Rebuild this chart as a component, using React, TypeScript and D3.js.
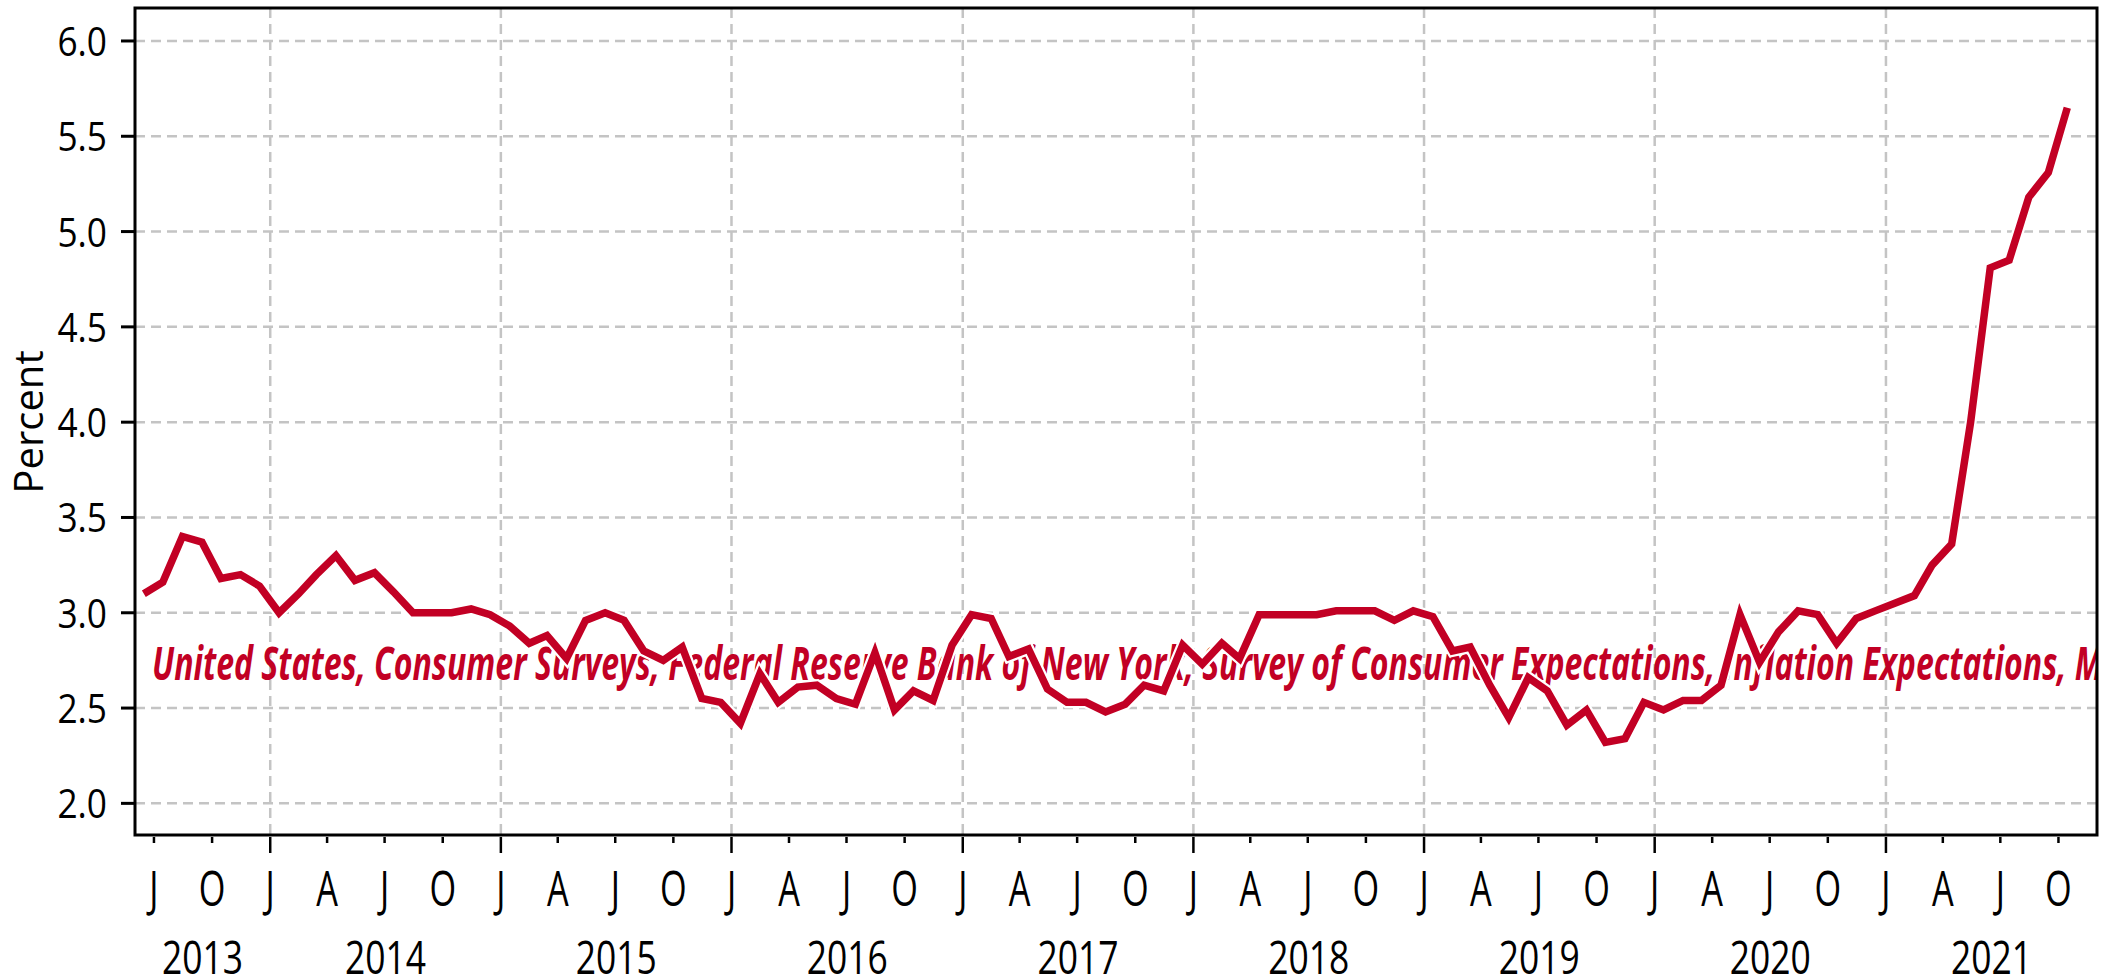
import React from "react";
import * as d3 from "d3";

// Median one-year-ahead expected inflation, monthly, Jun 2013 .. Oct 2021
const firstYear = 2013;
const firstMonth = 5; // June (0-based)
const inflationValues: number[] = [
  3.10, 3.16, 3.40, 3.37, 3.18, 3.20, 3.14, // 2013 Jun-Dec
  3.00, 3.10, 3.20, 3.30, 3.17, 3.21, 3.11, 3.00, 3.00, 3.00, 3.02, 2.99, // 2014
  2.93, 2.84, 2.88, 2.76, 2.96, 3.00, 2.96, 2.80, 2.75, 2.82, 2.55, 2.53, // 2015
  2.42, 2.68, 2.53, 2.61, 2.62, 2.55, 2.52, 2.79, 2.49, 2.59, 2.54, 2.83, // 2016
  2.99, 2.97, 2.77, 2.81, 2.60, 2.53, 2.53, 2.48, 2.52, 2.62, 2.59, 2.83, // 2017
  2.73, 2.84, 2.76, 2.99, 2.99, 2.99, 2.99, 3.01, 3.01, 3.01, 2.96, 3.01, // 2018
  2.98, 2.80, 2.82, 2.62, 2.45, 2.66, 2.59, 2.41, 2.49, 2.32, 2.34, 2.53, // 2019
  2.49, 2.54, 2.54, 2.62, 2.99, 2.74, 2.90, 3.01, 2.99, 2.84, 2.97, 3.01, // 2020
  3.05, 3.09, 3.25, 3.36, 4.00, 4.81, 4.85, 5.18, 5.31, 5.65, // 2021 Jan-Oct
];
const yTickValues = [2.0, 2.5, 3.0, 3.5, 4.0, 4.5, 5.0, 5.5, 6.0];
const quarterLetters: Record<number, string> = { 0: "J", 3: "A", 6: "J", 9: "O" };
const yearLabels = [2013, 2014, 2015, 2016, 2017, 2018, 2019, 2020, 2021];
const seriesLabel =
  "United States, Consumer Surveys, Federal Reserve Bank of New York, Survey of Consumer Expectations, Inflation Expectations, M";
const yAxisTitle = "Percent";

const W = 2123;
const H = 979;
const L = 135;
const R = 2097;
const T = 8;
const B = 835;
const RED = "#C20024";
const GRID = "#C4C4C4";
const FONT = "'Open Sans', 'Noto Sans', sans-serif";

export default function App() {
  const domainStart = new Date(firstYear, firstMonth, 1);
  const domainEnd = new Date(2021, 11, 1);
  const x = d3.scaleTime().domain([domainStart, domainEnd]).range([L, R]);
  const y = d3.scaleLinear().domain([1.834, 6.173]).range([B, T]);

  const points = inflationValues.map((v, i) => ({
    date: new Date(firstYear, firstMonth + i, 15),
    value: v,
  }));
  const line = d3
    .line<{ date: Date; value: number }>()
    .x((d) => x(d.date))
    .y((d) => y(d.value));
  const path = line(points) || "";

  const quarters = d3
    .timeMonths(new Date(firstYear, 6, 1), domainEnd)
    .filter((d) => d.getMonth() % 3 === 0);
  const years = quarters.filter((d) => d.getMonth() === 0);

  return (
    <svg
      width={W}
      height={H}
      style={{ position: "absolute", left: 0, top: 0, background: "#fff" }}
    >
      <defs>
        <clipPath id="plotClip">
          <rect x={L} y={T} width={R - L} height={B - T} />
        </clipPath>
      </defs>
      <rect x={0} y={0} width={W} height={H} fill="#fff" />

      {/* horizontal grid */}
      {yTickValues.map((t) => (
        <line
          key={"hg" + t}
          x1={L}
          x2={R}
          y1={y(t)}
          y2={y(t)}
          stroke={GRID}
          strokeWidth={2.5}
          strokeDasharray="10,6"
        />
      ))}
      {/* vertical grid at year starts */}
      {years.map((d) => (
        <line
          key={"vg" + d.getFullYear()}
          x1={x(d)}
          x2={x(d)}
          y1={T}
          y2={B}
          stroke={GRID}
          strokeWidth={2.5}
          strokeDasharray="10,6"
        />
      ))}

      <g clipPath="url(#plotClip)">
        <text
          x={152}
          y={680}
          fill={RED}
          fontFamily={FONT}
          fontStyle="italic"
          fontWeight={700}
          fontSize={46}
          textLength={1951}
          lengthAdjust="spacingAndGlyphs"
        >
          {seriesLabel}
        </text>
        <path
          d={path}
          fill="none"
          stroke="#fff"
          strokeWidth={12}
          strokeLinejoin="miter"
        />
        <path
          d={path}
          fill="none"
          stroke={RED}
          strokeWidth={7.5}
          strokeLinejoin="miter"
        />
      </g>

      {/* frame */}
      <rect
        x={L}
        y={T}
        width={R - L}
        height={B - T}
        fill="none"
        stroke="#000"
        strokeWidth={3}
      />

      {/* y axis ticks and labels */}
      {yTickValues.map((t) => (
        <g key={"yt" + t}>
          <line x1={121} x2={L} y1={y(t)} y2={y(t)} stroke="#000" strokeWidth={3} />
          <text
            transform={`translate(107,${y(t) + 15}) scale(0.86,1)`}
            textAnchor="end"
            fontFamily={FONT}
            fontSize={41}
            fill="#000"
          >
            {t.toFixed(1)}
          </text>
        </g>
      ))}
      <text
        transform={`translate(43,422) rotate(-90)`}
        textAnchor="middle"
        fontFamily={FONT}
        fontSize={40}
        fill="#000"
      >
        {yAxisTitle}
      </text>

      {/* x axis ticks and month letters */}
      {quarters.map((d, i) => {
        const major = d.getMonth() === 0;
        return (
          <g key={"xq" + i}>
            <line
              x1={x(d)}
              x2={x(d)}
              y1={837}
              y2={major ? 853 : 843}
              stroke="#000"
              strokeWidth={2.5}
            />
            <text
              transform={`translate(${x(d)},906) scale(0.7,1)`}
              textAnchor="middle"
              fontFamily={FONT}
              fontSize={49}
              fill="#000"
            >
              {quarterLetters[d.getMonth()]}
            </text>
          </g>
        );
      })}
      {yearLabels.map((yr) => {
        const a = Math.max(L, x(new Date(yr, 0, 1)));
        const b = Math.min(R, x(new Date(yr + 1, 0, 1)));
        return (
          <text
            key={"yr" + yr}
            transform={`translate(${(a + b) / 2},974) scale(0.77,1)`}
            textAnchor="middle"
            fontFamily={FONT}
            fontSize={46}
            fill="#000"
          >
            {yr}
          </text>
        );
      })}
    </svg>
  );
}
